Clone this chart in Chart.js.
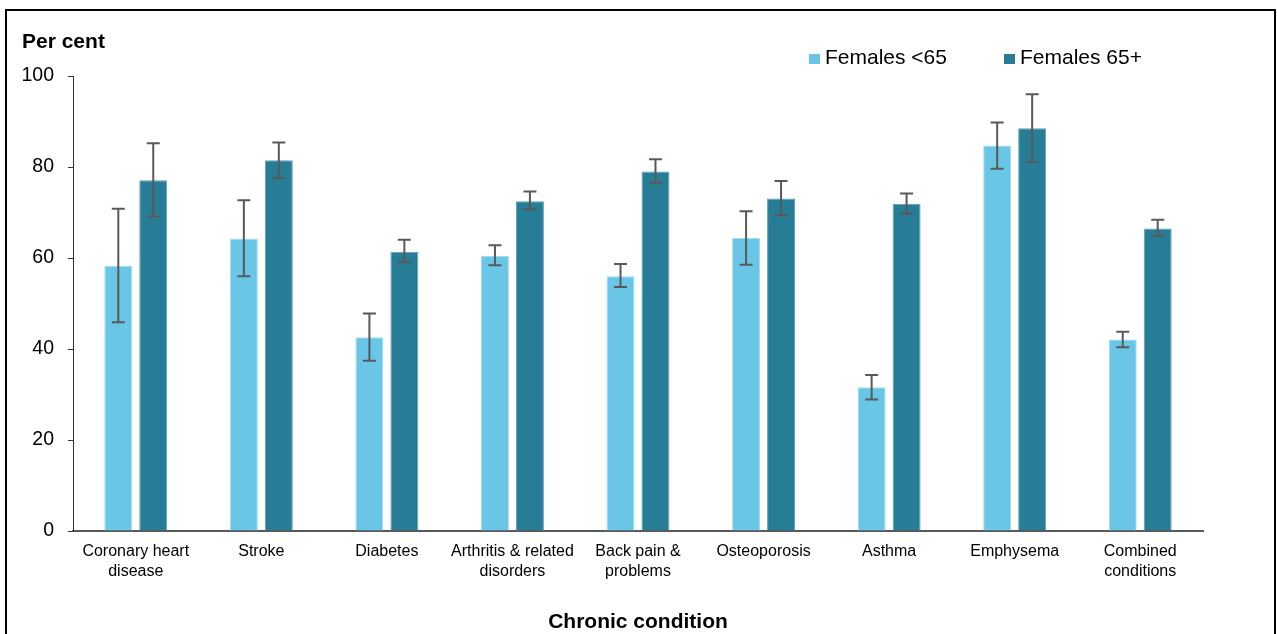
<!DOCTYPE html>
<html>
<head>
<meta charset="utf-8">
<title>Chronic condition prevalence, females</title>
<script src="https://cdn.jsdelivr.net/npm/chart.js@4/dist/chart.umd.min.js"></script>
<style>
  html, body { margin: 0; padding: 0; background: #fff; }
  #wrap { width: 1277px; height: 634px; }
</style>
</head>
<body>
<div id="wrap"><canvas id="chart" width="1277" height="634"></canvas></div>
<script>
// Chronic conditions (x-axis categories)
const categories = [
  ['Coronary heart', 'disease'],
  'Stroke',
  'Diabetes',
  ['Arthritis & related', 'disorders'],
  ['Back pain &', 'problems'],
  'Osteoporosis',
  'Asthma',
  'Emphysema',
  ['Combined', 'conditions']
];

// Per cent values by age group
const femalesUnder65 = [58.3, 64.3, 42.6, 60.5, 56.0, 64.4, 31.6, 84.7, 42.1];
const femalesOver65  = [77.1, 81.5, 61.4, 72.5, 79.0, 73.1, 71.9, 88.5, 66.5];

// Confidence interval bounds
const under65Low  = [45.9, 56.0, 37.4, 58.4, 53.6, 58.5, 28.9, 79.6, 40.4];
const under65High = [70.8, 72.7, 47.8, 62.8, 58.7, 70.3, 34.3, 89.8, 43.8];
const over65Low   = [69.1, 77.6, 59.1, 70.7, 76.5, 69.4, 69.7, 81.1, 64.9];
const over65High  = [85.2, 85.4, 64.0, 74.6, 81.7, 76.9, 74.2, 96.0, 68.4];

// Y-axis ticks
const yTicks = [0, 20, 40, 60, 80, 100];

const FONT = '"Liberation Sans", Arial, Helvetica, sans-serif';
const LIGHT = '#69c6e6';
const DARK = '#287d96';

// Error bars drawn from each dataset's low/high arrays via the y scale
const errorBars = {
  id: 'errorBars',
  afterDatasetsDraw(chart) {
    const ctx = chart.ctx;
    const y = chart.scales.y;
    ctx.save();
    ctx.strokeStyle = '#595959';
    ctx.lineWidth = 2;
    chart.data.datasets.forEach((ds, di) => {
      const meta = chart.getDatasetMeta(di);
      meta.data.forEach((bar, i) => {
        const x = bar.x;
        const yl = y.getPixelForValue(ds.errLow[i]);
        const yh = y.getPixelForValue(ds.errHigh[i]);
        const cap = 6.5;
        ctx.beginPath();
        ctx.moveTo(x, yl); ctx.lineTo(x, yh);
        ctx.moveTo(x - cap, yl); ctx.lineTo(x + cap, yl);
        ctx.moveTo(x - cap, yh); ctx.lineTo(x + cap, yh);
        ctx.stroke();
      });
    });
    ctx.restore();
  }
};

// Frame, y-axis caption and legend
const decorations = {
  id: 'decorations',
  beforeDraw(chart) {
    const ctx = chart.ctx;
    ctx.save();
    ctx.fillStyle = '#fff';
    ctx.fillRect(0, 0, chart.width, chart.height);
    ctx.strokeStyle = '#000';
    ctx.lineWidth = 2;
    ctx.strokeRect(6, 10, 1269, 700);
    ctx.restore();
  },
  afterDraw(chart) {
    const ctx = chart.ctx;
    ctx.save();
    ctx.fillStyle = '#000';
    ctx.textBaseline = 'alphabetic';
    ctx.textAlign = 'left';
    ctx.font = 'bold 21px ' + FONT;
    ctx.fillText('Per cent', 22, 48);

    ctx.font = '21px ' + FONT;
    const legendX = [809, 1004];
    chart.data.datasets.forEach((ds, i) => {
      ctx.fillStyle = ds.backgroundColor;
      ctx.fillRect(legendX[i], 54, 11, 10);
      ctx.fillStyle = '#000';
      ctx.fillText(ds.label, legendX[i] + 16, 64);
    });
    ctx.restore();
  }
};

new Chart(document.getElementById('chart'), {
  type: 'bar',
  data: {
    labels: categories,
    datasets: [
      {
        label: 'Females <65',
        data: femalesUnder65,
        errLow: under65Low,
        errHigh: under65High,
        backgroundColor: LIGHT,
        borderColor: '#a4dcef',
        borderWidth: 1
      },
      {
        label: 'Females 65+',
        data: femalesOver65,
        errLow: over65Low,
        errHigh: over65High,
        backgroundColor: DARK,
        borderColor: '#5f9fb3',
        borderWidth: 1
      }
    ]
  },
  options: {
    responsive: false,
    animation: false,
    categoryPercentage: 0.557,
    barPercentage: 0.8,
    layout: { padding: { left: 0, right: 74, top: 76, bottom: 0 } },
    plugins: {
      legend: { display: false },
      tooltip: { enabled: false }
    },
    scales: {
      x: {
        grid: { display: false, drawTicks: false },
        border: { display: true, color: '#595959', width: 2 },
        ticks: {
          color: '#000',
          padding: 11,
          maxRotation: 0,
          autoSkip: false,
          font: { family: FONT, size: 16, lineHeight: 1.22 }
        },
        title: {
          display: true,
          text: 'Chronic condition',
          color: '#000',
          padding: { top: 0, bottom: 0 },
          font: { family: FONT, size: 21, weight: 'bold', lineHeight: 1.15 }
        },
        afterFit(scale) { scale.height = 103; }
      },
      y: {
        min: 0,
        max: 100,
        afterBuildTicks(scale) { scale.ticks = yTicks.map(v => ({ value: v })); },
        grid: { drawOnChartArea: false, drawTicks: true, tickLength: 5, color: '#333', lineWidth: 1 },
        border: { display: true, color: '#333', width: 1 },
        ticks: {
          color: '#000',
          padding: 14,
          font: { family: FONT, size: 19.5 }
        },
        afterFit(scale) { scale.width = 73; }
      }
    }
  },
  plugins: [decorations, errorBars]
});
</script>
</body>
</html>
